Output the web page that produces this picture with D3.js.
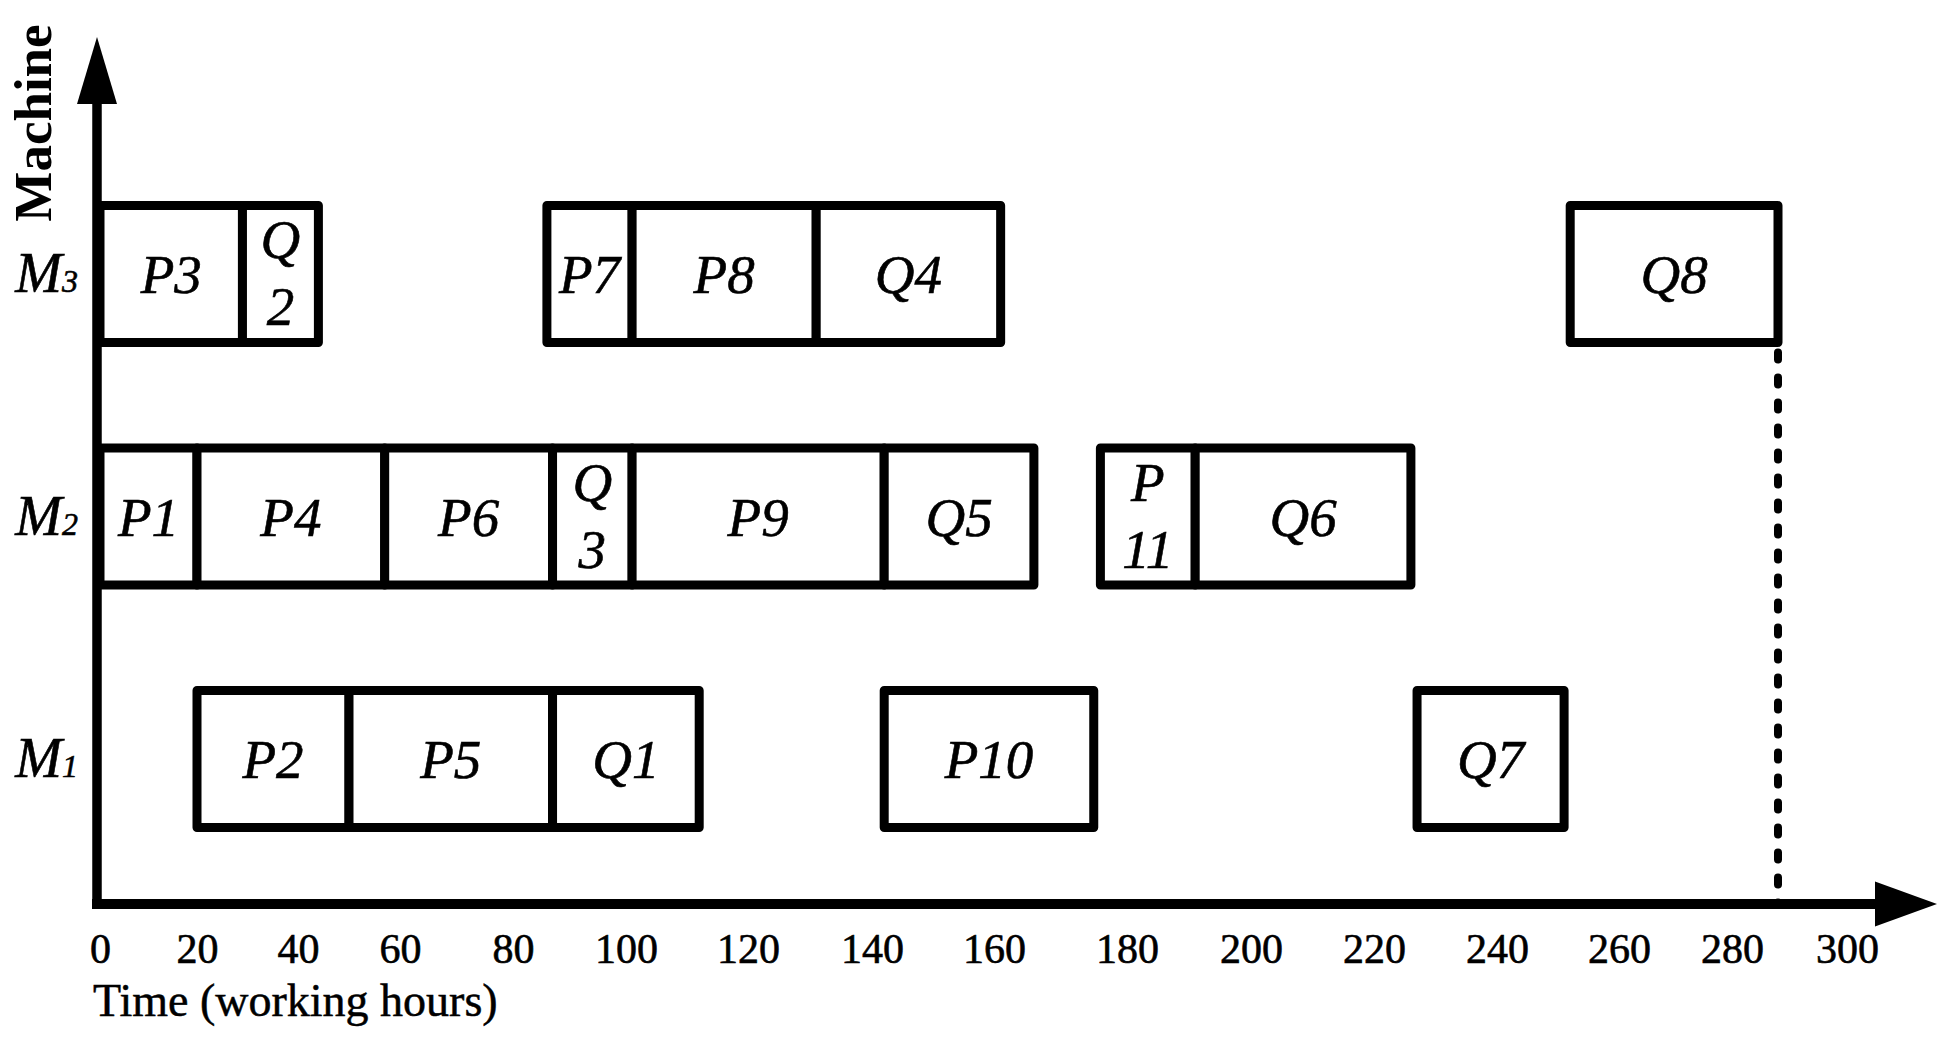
<!DOCTYPE html>
<html>
<head>
<meta charset="utf-8">
<script src="https://cdn.jsdelivr.net/npm/d3@7"></script>
<style>
  body { margin: 0; background: #fff; }
  text { font-family: "Liberation Serif", "Times New Roman", serif; fill: #000; }
</style>
</head>
<body>
<div id="gantt"></div>
<script>
// Schedule (working hours)
const machines   = ["M1", "M2", "M3"];
const jobs       = ["P3", "Q2", "P7", "P8", "Q4", "Q8",
                    "P1", "P4", "P6", "Q3", "P9", "Q5", "P11", "Q6",
                    "P2", "P5", "Q1", "P10", "Q7"];
const jobMachine = ["M3", "M3", "M3", "M3", "M3", "M3",
                    "M2", "M2", "M2", "M2", "M2", "M2", "M2", "M2",
                    "M1", "M1", "M1", "M1", "M1"];
const jobStart   = [0, 29, 86, 101, 131, 252,
                    0, 20, 57, 87, 101, 142, 176, 191,
                    20, 50, 87, 142, 227];
const jobEnd     = [29, 44, 101, 131, 161, 288,
                    20, 57, 87, 101, 142, 166, 191, 226,
                    50, 87, 112, 175, 251];
const timeTicks  = [0, 20, 40, 60, 80, 100, 120, 140, 160, 180, 200, 220, 240, 260, 280, 300];

// Layout
const width = 1946;
const height = 1055;
const axisX = 97;        // vertical axis
const axisY = 904;       // horizontal axis
const boxH = 137;
// the time axis in the figure is hand spaced, so the scale follows its tick spots
const tickPos = [100, 197, 298, 400, 513, 626, 748, 872, 994, 1127, 1251, 1374, 1497, 1619, 1732, 1847];

const svg = d3.select("#gantt")
  .append("svg")
  .attr("width", width)
  .attr("height", height);

// Scales
const x = d3.scaleLinear().domain(timeTicks).range(tickPos);
const y = d3.scalePoint().domain(machines).range([759, 274]);

const tasks = jobs.map((name, i) => ({
  name: name,
  machine: jobMachine[i],
  start: jobStart[i],
  end: jobEnd[i]
}));

// Makespan marker
const makespan = d3.max(jobEnd);
const lastTask = tasks.find(d => d.end === makespan);
svg.append("line")
  .attr("x1", x(makespan))
  .attr("x2", x(makespan))
  .attr("y1", y(lastTask.machine) + boxH / 2 + 10)
  .attr("y2", axisY)
  .attr("stroke", "#000")
  .attr("stroke-width", 8)
  .attr("stroke-dasharray", "7,18")
  .attr("stroke-linecap", "round");

// Boxes
const task = svg.selectAll(".task")
  .data(tasks)
  .join("g")
  .attr("class", "task");

task.append("rect")
  .attr("x", d => x(d.start))
  .attr("y", d => y(d.machine) - boxH / 2)
  .attr("width", d => x(d.end) - x(d.start))
  .attr("height", boxH)
  .attr("fill", "#fff")
  .attr("stroke", "#000")
  .attr("stroke-width", 9)
  .attr("stroke-linejoin", "round");

// Labels, wrapped onto two lines when the box is too narrow
task.append("text")
  .attr("font-style", "italic")
  .attr("font-size", 55)
  .attr("stroke", "#000")
  .attr("stroke-width", 0.6)
  .attr("text-anchor", "middle")
  .attr("x", d => (x(d.start) + x(d.end)) / 2)
  .attr("y", d => y(d.machine) + 19)
  .text(d => d.name)
  .each(function(d) {
    const w = x(d.end) - x(d.start);
    if (this.getComputedTextLength() > 0.82 * w) {
      const t = d3.select(this);
      const cx = +t.attr("x");
      t.text(null).attr("y", y(d.machine) - 16);
      t.append("tspan").attr("x", cx).text(d.name[0]);
      t.append("tspan").attr("x", cx).attr("dy", 67).text(d.name.slice(1));
    }
  });

// X axis
const xEnd = x(300) + 28;
svg.append("g")
  .attr("transform", `translate(0,${axisY})`)
  .call(d3.axisBottom(x).tickValues(timeTicks).tickSize(0).tickPadding(29))
  .call(g => g.select(".domain").remove())
  .selectAll("text")
  .attr("font-size", 42)
  .attr("stroke", "#000")
  .attr("stroke-width", 0.6);

svg.append("line")
  .attr("x1", axisX - 5).attr("x2", xEnd)
  .attr("y1", axisY).attr("y2", axisY)
  .attr("stroke", "#000")
  .attr("stroke-width", 10);

svg.append("path")
  .attr("d", `M${xEnd},${axisY - 22.5} L${xEnd + 62},${axisY} L${xEnd},${axisY + 22.5} Z`)
  .attr("fill", "#000");

// Y axis
const yTop = 104;
svg.append("line")
  .attr("x1", axisX).attr("x2", axisX)
  .attr("y1", axisY + 5).attr("y2", yTop)
  .attr("stroke", "#000")
  .attr("stroke-width", 9.5);

svg.append("path")
  .attr("d", `M${axisX - 20},${yTop} L${axisX},${yTop - 67} L${axisX + 20},${yTop} Z`)
  .attr("fill", "#000");

svg.append("g")
  .attr("transform", `translate(${axisX},0)`)
  .call(d3.axisLeft(y).tickSize(0).tickPadding(19))
  .call(g => g.select(".domain").remove())
  .selectAll("text")
  .attr("font-size", 56)
  .attr("font-style", "italic")
  .attr("stroke", "#000")
  .attr("stroke-width", 0.6)
  .each(function(d) {
    const t = d3.select(this).text(null);
    t.append("tspan").text(d[0]);
    t.append("tspan").attr("font-size", 32).text(d.slice(1));
  });

// Axis titles
svg.append("text")
  .attr("transform", "translate(51,123) rotate(-90)")
  .attr("text-anchor", "middle")
  .attr("font-weight", "bold")
  .attr("font-size", 53)
  .text("Machine");

svg.append("text")
  .attr("x", 93)
  .attr("y", 1016)
  .attr("font-size", 46)
  .attr("stroke", "#000")
  .attr("stroke-width", 0.5)
  .text("Time (working hours)");
</script>
</body>
</html>
